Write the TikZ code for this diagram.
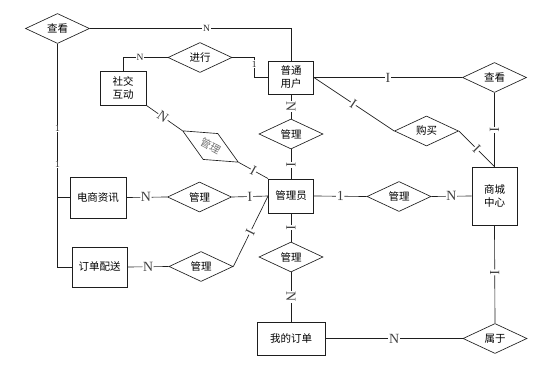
\documentclass[tikz,border=0pt]{standalone}
\usepackage{fontspec}
\setmainfont{Liberation Serif}
\newfontfamily\cjk{Noto Sans CJK SC}
\usetikzlibrary{shapes.geometric}
\definecolor{erink}{RGB}{30, 30, 30}
\tikzset{
  entity/.style={
    draw=erink,
    line width=0.9pt,
    fill=white,
    minimum width=45pt,
    minimum height=34pt,
    inner sep=1pt,
    align=center,
    font=\cjk\fontsize{10.5}{13}\selectfont
  },
  relation/.style={
    diamond,
    draw=erink,
    line width=0.65pt,
    fill=white,
    aspect=2,
    minimum width=64pt,
    minimum height=30pt,
    inner sep=0pt,
    font=\cjk\fontsize{10.5}{13}\selectfont
  },
  link/.style={
    draw=erink,
    line width=0.65pt
  },
  card/.style={
    fill=white,
    inner sep=0.6pt,
    sloped,
    text=black!75,
    font=\fontsize{14}{14}\selectfont
  },
  cardsmall/.style={
    fill=white,
    inner sep=0.6pt,
    text=black!85,
    font=\fontsize{9.5}{9.5}\selectfont
  }
}

\begin{document}
\begin{tikzpicture}[x=1pt, y=-1pt]
  \useasboundingbox (0, 0) rectangle (550, 367);
  % entities
  \node[entity, minimum width=46pt] (shjd) at (123, 88) {社交\\互动};
  \node[entity, minimum height=33pt] (ptyh) at (291, 77.5) {普通\\用户};
  \node[entity] (gly) at (291, 196) {管理员};
  \node[entity, minimum height=58pt] (sczx) at (494.5, 196) {商城\\中心};
  \node[entity, minimum width=56pt, minimum height=41pt] (dszx) at (98, 197.5) {电商资讯};
  \node[entity, minimum width=55pt, minimum height=40pt] (ddps) at (99.5, 267) {订单配送};
  \node[entity, minimum width=68pt, minimum height=33pt] (wddd) at (291, 338.5) {我的订单};

  % relations
  \node[relation] (ckl) at (57.5, 28.5) {查看};
  \node[relation] (jx) at (200, 57.5) {进行};
  \node[relation] (ckr) at (494.5, 77.5) {查看};
  \node[relation] (glyh) at (291, 134) {管理};
  \node[relation] (gm) at (426.5, 131) {购买};
  \node[relation, rotate=-29.4, text=black!55] (glhd) at (210.5, 146.5) {管理};
  \node[relation] (glsc) at (399, 196.5) {管理};
  \node[relation] (glzx) at (199.5, 197) {管理};
  \node[relation] (glps) at (201, 266.5) {管理};
  \node[relation] (gldd) at (291, 257) {管理};
  \node[relation] (sy) at (495, 338.5) {属于};

  % connectors
  \draw[link] (ckl.east) -| node[cardsmall, pos=0.29]{N} (ptyh.north);
  \draw[link] (ckl.south) |- node[cardsmall, pos=0.19]{1}
                             node[cardsmall, pos=0.27]{1} (ddps.west);
  \draw[link] (ckl.south |- dszx.west) -- (dszx.west);
  \draw[link] (jx.west) -| node[cardsmall, pos=0.31]{N} (shjd.north);
  \draw[link] (jx.east) -- ++(22, 0) |- node[cardsmall, pos=0.16]{1} (ptyh.west);

  \path (ptyh.east) edge[link] node[card]{I} (ckr.west)
        (ckr.south) edge[link] node[card]{I} (sczx.north)
        (ptyh.east) edge[link] node[card, pos=0.49]{I} (gm.west)
        (gm.east) edge[link] node[card]{I} (sczx.north)
        (ptyh.south) edge[link] node[card]{N} (glyh.north)
        (glyh.south) edge[link] node[card, pos=0.53]{I} (gly.north)
        (gly.east) edge[link] node[card]{1} (glsc.west)
        (glsc.east) edge[link] node[card]{N} (sczx.west)
        (shjd.south east) edge[link] node[card, pos=0.46]{N} (glhd.west)
        (glhd.east) edge[link] node[card]{I} (gly.north west)
        (dszx.east) edge[link] node[card, pos=0.48]{N} (glzx.west)
        (glzx.east) edge[link] node[card]{I} (gly.west)
        (ddps.east) edge[link] node[card]{N} (glps.west)
        (glps.east) edge[link] node[card, pos=0.49]{I} (gly.west)
        (gly.south) edge[link] node[card]{I} (gldd.north)
        (gldd.south) edge[link] node[card]{N} (wddd.north)
        (wddd.east) edge[link] node[card]{N} (sy.west)
        (sy.north) edge[link] node[card, pos=0.52]{I} (sczx.south);
\end{tikzpicture}
\end{document}
